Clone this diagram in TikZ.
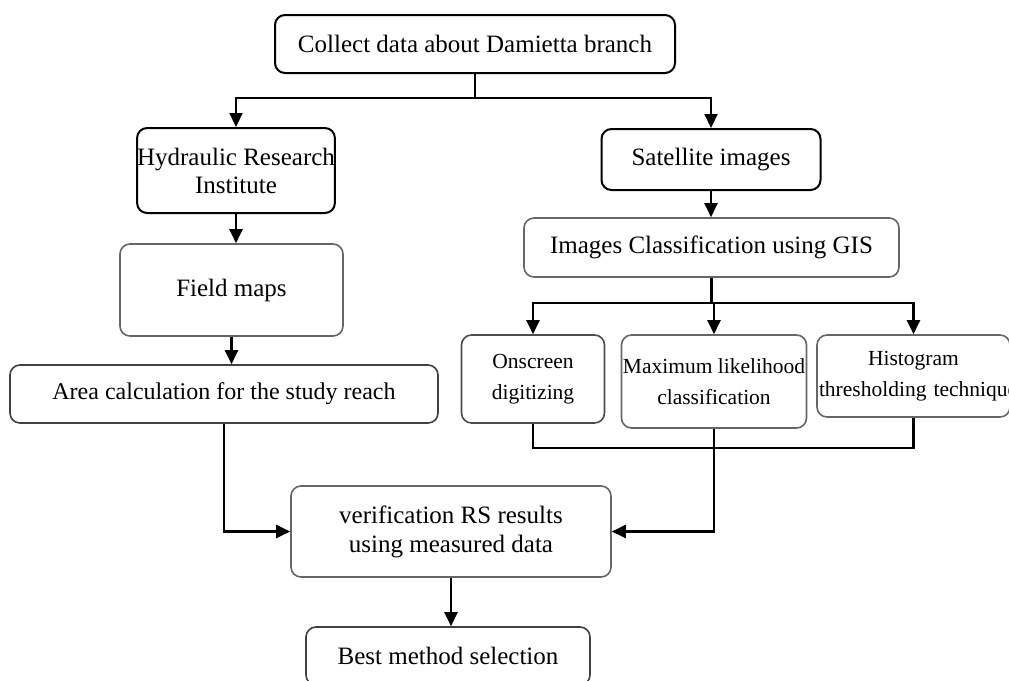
\documentclass[tikz,border=0pt]{standalone}
\usepackage{fontspec}
\setmainfont{Liberation Serif}
\usepackage{tikz}
\usetikzlibrary{shapes,arrows.meta,positioning}
\tikzstyle{block} = [draw, rounded corners=10pt, line width=2pt, inner sep=0pt,
text centered, align=center, font=\fontsize{25}{28}\selectfont]
\tikzstyle{greyblock} = [block, draw=black!60, line width=1.6pt]
\tikzstyle{method} = [greyblock, font=\fontsize{21.5}{31}\selectfont]
\tikzstyle{arrow} = [line width=2.2pt,->,>={Triangle[length=14pt,width=13pt]}]
\tikzstyle{line} = [line width=2.2pt,-]

\begin{document}
\begin{tikzpicture}[x=1pt, y=-1pt]
\useasboundingbox (0,0) rectangle (1009,680);

% Place nodes
\node [block, minimum width=400pt, minimum height=58pt](collect) at (475,44){Collect data about Damietta branch};
\node [block, minimum width=193pt, minimum height=85pt](hydraulic) at (236,170.5){Hydraulic Research\\Institute};
\node [greyblock, minimum width=223pt, minimum height=92pt](field) at (231.5,290){Field maps};
\node [greyblock, draw=black!75, minimum width=428pt, minimum height=58pt, font=\fontsize{24}{28}\selectfont](area) at (224,394){Area calculation for the study reach};
\node [block, minimum width=219pt, minimum height=61pt](satellite) at (711,159.5){Satellite images};
\node [greyblock, minimum width=375pt, minimum height=59pt](gis) at (711.5,247.5){Images Classification using GIS};
\node [method, draw=black!70, minimum width=143pt, minimum height=88pt](onscreen) at (533,379){Onscreen\\digitizing};
\node [method, minimum width=185pt, minimum height=93pt](maxlike) at (714,381.5){Maximum likelihood\\classification};
\node [method, text width=193pt, minimum height=82pt](histogram) at (913.5,376){Histogram\\\hspace*{2pt}\mbox{thresholding technique}};
\node [greyblock, minimum width=320pt, minimum height=91pt, font=\fontsize{25}{29}\selectfont](verify) at (451,531.5){verification RS results\\using measured data};
\node [greyblock, draw=black!75, minimum width=284pt, minimum height=58pt](best) at (448,656){Best method selection};

% Place lines
\draw [arrow] (collect.south) -- ++(0,24) -| (hydraulic.north);
\draw [arrow] (collect.south) -- ++(0,24) -| (satellite.north);
\draw [arrow] (hydraulic) -- (hydraulic.south |- field.north);
\draw [arrow] (field.south) -- (field.south |- area.north);
\draw [arrow] (area.south) |- (verify.west);
\draw [arrow] (satellite) -- (satellite.south |- gis.north);
\draw [arrow] (gis.south) -- ++(0,25) -| (onscreen.north);
\draw [arrow] (gis.south) -- ++(0,25) -| (maxlike.north);
\draw [arrow] (gis.south) -- ++(0,25) -| (histogram.north);
\draw [line] (onscreen.south) -- ++(0,24) -| (histogram.south);
\draw [arrow] (maxlike.south) |- (verify.east);
\draw [arrow] (verify.south) -- (verify.south |- best.north);

\end{tikzpicture}
\end{document}
